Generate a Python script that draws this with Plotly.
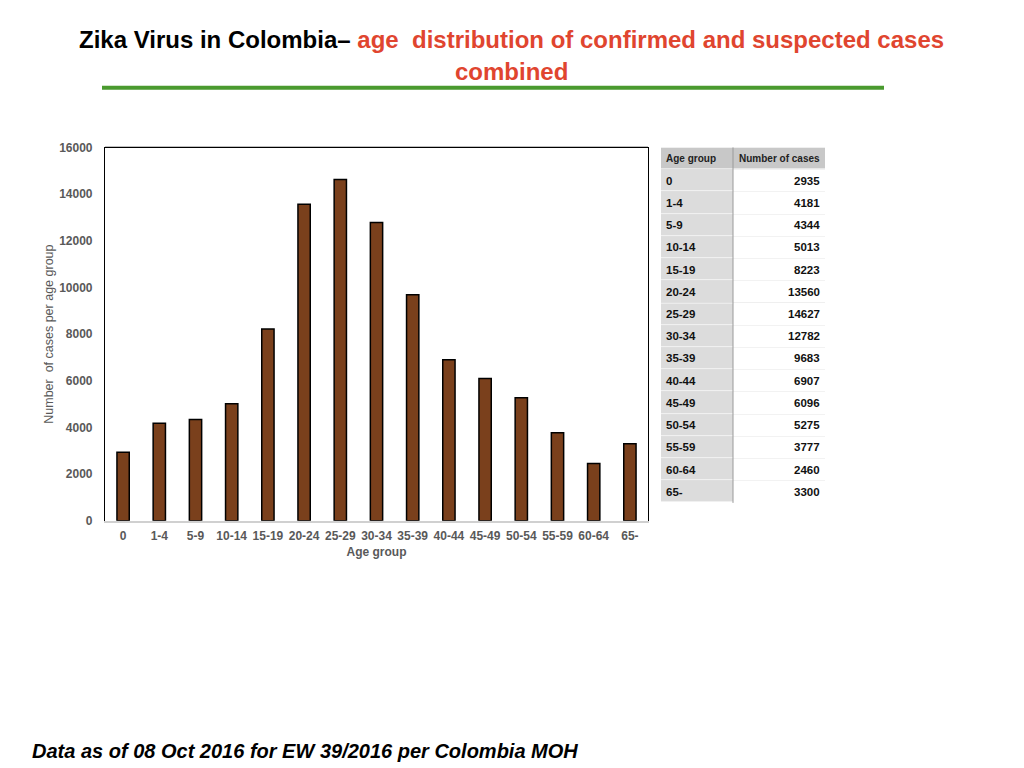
import plotly.graph_objects as go

age_groups = ['0', '1-4', '5-9', '10-14', '15-19', '20-24', '25-29', '30-34',
              '35-39', '40-44', '45-49', '50-54', '55-59', '60-64', '65-']
cases = [2935, 4181, 4344, 5013, 8223, 13560, 14627, 12782,
         9683, 6907, 6096, 5275, 3777, 2460, 3300]
y_ticks = [0, 2000, 4000, 6000, 8000, 10000, 12000, 14000, 16000]
table_header = ['Age group', 'Number of cases']

# page has a body margin, so the figure is shifted by it
OFF = 8
FW, FH = 1024 - 2 * OFF, 768


def px(x):
    return (x - OFF) / FW


def py(y):
    # vertical placement measured from the rendered page
    return 1 - ((y - 13) / 0.986) / FH


font = 'Liberation Sans, Arial, sans-serif'
grey = '#595959'

fig = go.Figure()

fig.add_trace(go.Bar(
    x=age_groups, y=cases,
    marker=dict(color='#7a401c', line=dict(color='black', width=1.5)),
    hoverinfo='x+y'
))

# table: cell backgrounds as a heatmap, text as annotations
n_rows = len(age_groups) + 1
row_idx = list(range(n_rows))
z = [[2, 2]] + [[1, 0] for _ in age_groups]
fig.add_trace(go.Heatmap(
    x=[0, 72, 164], y=row_idx, z=z,
    xaxis='x2', yaxis='y2',
    colorscale=[[0, 'white'], [0.5, '#dcdcdc'], [1, '#c8c8c8']],
    zmin=0, zmax=2, showscale=False, ygap=1, hoverinfo='skip'
))

annotations = []
for i, (a, c) in enumerate(zip(age_groups, cases)):
    annotations.append(dict(xref='x2', yref='y2', x=3, y=i + 1, text='<b>%s</b>' % a,
                            showarrow=False, xanchor='left',
                            font=dict(family=font, size=11.5, color='#111')))
    annotations.append(dict(xref='x2', yref='y2', x=161, y=i + 1, text='<b>%d</b>' % c,
                            showarrow=False, xanchor='right',
                            font=dict(family=font, size=11.5, color='#111')))
annotations.append(dict(xref='x2', yref='y2', x=3, y=0, text='<b>%s</b>' % table_header[0],
                        showarrow=False, xanchor='left',
                        font=dict(family=font, size=10, color='#222')))
annotations.append(dict(xref='x2', yref='y2', x=118, y=0, text='<b>%s</b>' % table_header[1],
                        showarrow=False, xanchor='center',
                        font=dict(family=font, size=10, color='#222')))

annotations += [
    dict(xref='paper', yref='paper', x=px(511), y=py(38), showarrow=False,
         xanchor='center', yanchor='middle',
         text='<b>Zika Virus in Colombia–</b> <span style="color:#e0452f"><b>age  distribution of confirmed and suspected cases</b></span>',
         font=dict(family=font, size=24, color='black')),
    dict(xref='paper', yref='paper', x=px(511), y=py(70), showarrow=False,
         xanchor='center', yanchor='middle',
         text='<b>combined</b>',
         font=dict(family=font, size=24, color='#e0452f')),
    dict(xref='paper', yref='paper', x=px(30), y=py(752), showarrow=False,
         xanchor='left', yanchor='middle',
         text='<b><i>Data as of 08 Oct 2016 for EW 39/2016 per Colombia MOH</i></b>',
         font=dict(family=font, size=20, color='black'))
]

fig.update_layout(
    width=FW, height=FH,
    autosize=False,
    margin=dict(l=0, r=0, t=0, b=0),
    paper_bgcolor='white', plot_bgcolor='white',
    showlegend=False,
    bargap=0.66,
    font=dict(family=font),
    xaxis=dict(
        type='category',
        domain=[px(105), px(648)],
        showline=True, linecolor='#d0d0d0', linewidth=1.5,
        ticks='', showgrid=False, fixedrange=True,
        ticklabelstandoff=3,
        tickfont=dict(size=12, color=grey),
        tickvals=age_groups, ticktext=['<b>%s</b>' % a for a in age_groups],
        title=dict(text='<b>Age group</b>', font=dict(size=12, color=grey), standoff=6)
    ),
    yaxis=dict(
        domain=[py(521), py(146)],
        range=[0, 16000], tickvals=y_ticks, ticktext=['<b>%d</b>' % t for t in y_ticks],
        showline=True, linecolor='black', linewidth=1.2, mirror=True,
        ticks='', showgrid=False, zeroline=False, fixedrange=True,
        ticklabelstandoff=9,
        tickfont=dict(size=12, color=grey),
        title=dict(text='Number  of cases per age group', font=dict(size=12.5, color=grey), standoff=2)
    ),
    xaxis2=dict(
        domain=[px(661), px(825)], anchor='y2', range=[0, 164],
        showgrid=False, zeroline=False, showticklabels=False, ticks='', fixedrange=True
    ),
    yaxis2=dict(
        domain=[py(503), py(146)], anchor='x2', range=[n_rows - 0.5, -0.5],
        tickvals=[k + 0.5 for k in range(n_rows - 1)], showgrid=True, gridcolor='#e2e2e2',
        zeroline=False, showticklabels=False, ticks='', fixedrange=True
    ),
    shapes=[
        dict(type='line', xref='x domain', yref='y domain', x0=0, x1=1, y0=1, y1=1,
             line=dict(color='black', width=1.2)),
        dict(type='line', xref='paper', yref='paper', x0=px(102), x1=px(884),
             y0=py(86), y1=py(86), line=dict(color='#4a9a2f', width=4)),
        dict(type='line', xref='x2', yref='y2 domain', x0=72, x1=72, y0=0, y1=1,
             line=dict(color='#9a9a9a', width=1))
    ],
    annotations=annotations
)

fig.write_html('out.html')
